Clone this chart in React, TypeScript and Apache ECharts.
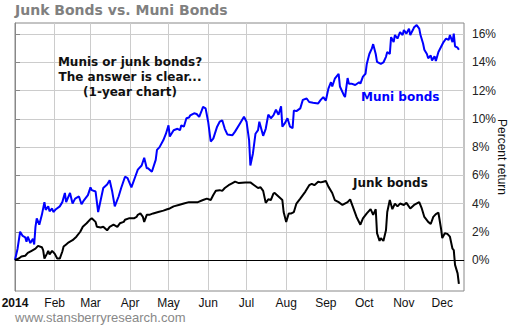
import { useEffect, useRef } from 'react';
import * as echarts from 'echarts';

// Days since 2014-01-01
const monthStarts = [0, 31, 59, 90, 120, 151, 181, 212, 243, 273, 304, 334];
const monthLabels = ['2014', 'Feb', 'Mar', 'Apr', 'May', 'Jun', 'Jul', 'Aug', 'Sep', 'Oct', 'Nov', 'Dec'];
const yTicks = [0, 2, 4, 6, 8, 10, 12, 14, 16];

const muniDays = [0, 2, 4, 6, 8, 9, 10, 12, 14, 15, 16, 17, 19, 21, 23, 24, 26, 27, 29, 30, 32, 35, 37, 39, 40, 43, 45, 47, 50, 52, 54, 57, 59, 60, 63, 65, 67, 69, 72, 74, 76, 78, 81, 83, 86, 88, 91, 94, 96, 99, 101, 103, 104, 107, 110, 111, 113, 116, 118, 120, 121, 124, 127, 129, 130, 132, 134, 136, 137, 140, 142, 144, 146, 147, 149, 151, 153, 155, 158, 160, 162, 164, 166, 170, 172, 176, 179, 181, 183, 184, 186, 188, 190, 191, 194, 196, 198, 200, 202, 204, 206, 208, 209, 211, 213, 215, 217, 218, 220, 223, 225, 228, 230, 233, 237, 239, 241, 243, 245, 247, 248, 250, 253, 254, 257, 258, 260, 261, 263, 266, 269, 270, 272, 274, 275, 277, 279, 280, 282, 283, 286, 288, 290, 291, 293, 294, 296, 297, 299, 301, 303, 304, 306, 308, 309, 311, 312, 314, 316, 317, 319, 320, 322, 323, 325, 326, 328, 329, 331, 333, 335, 337, 339, 340, 342, 343, 344, 346, 347];
const muniPct = [0, 0.8, 2.0, 1.7, 1.6, 1.3, 1.65, 1.2, 1.5, 1.1, 2.35, 2.95, 2.5, 3.2, 4.1, 3.55, 3.8, 3.45, 3.65, 3.4, 3.6, 3.8, 4.1, 4.75, 4.1, 4.75, 4.0, 4.35, 4.5, 3.95, 4.25, 4.6, 5.15, 4.95, 4.85, 3.4, 4.25, 5.1, 5.35, 5.65, 4.85, 3.8, 4.5, 5.1, 5.9, 5.8, 5.15, 5.9, 6.4, 6.7, 7.25, 6.5, 6.5, 6.25, 7.1, 7.8, 8.0, 8.5, 8.95, 9.55, 8.75, 9.2, 9.3, 9.2, 9.55, 9.45, 10.05, 10.1, 10.25, 10.4, 10.35, 10.15, 10.6, 10.85, 10.75, 9.8, 8.4, 8.6, 9.45, 9.8, 9.9, 9.3, 8.9, 8.85, 9.1, 9.7, 10.15, 9.8, 8.5, 6.7, 7.55, 8.95, 9.2, 9.8, 8.8, 9.3, 10.3, 10.05, 10.25, 10.65, 10.3, 10.9, 9.45, 9.7, 10.05, 9.45, 9.35, 10.6, 10.55, 10.75, 11.35, 11.45, 11.2, 11.15, 11.1, 11.35, 11.55, 11.3, 12.15, 12.6, 12.3, 12.85, 13.2, 12.3, 11.7, 11.55, 12.9, 12.5, 12.5, 12.4, 12.6, 12.5, 13.0, 13.2, 13.9, 14.6, 15.0, 15.3, 14.6, 14.05, 13.9, 14.0, 14.4, 14.75, 14.6, 15.8, 15.45, 15.95, 15.7, 16.15, 15.95, 16.3, 16.05, 16.4, 15.95, 16.3, 16.5, 16.65, 16.4, 15.95, 15.35, 14.9, 14.6, 14.3, 14.5, 14.15, 14.45, 14.1, 14.75, 15.1, 15.45, 15.7, 15.6, 15.95, 15.45, 16.05, 15.15, 15.05, 14.9];

const junkDays = [0, 3, 5, 8, 10, 13, 16, 18, 21, 22, 23, 25, 26, 27, 29, 31, 33, 35, 37, 38, 40, 42, 45, 48, 51, 53, 56, 59, 60, 63, 64, 67, 69, 72, 74, 77, 80, 82, 85, 86, 89, 93, 95, 96, 98, 100, 101, 103, 105, 108, 112, 116, 119, 121, 124, 128, 132, 136, 140, 143, 147, 150, 153, 155, 157, 160, 162, 164, 167, 170, 172, 175, 180, 184, 187, 190, 192, 194, 196, 198, 200, 202, 203, 206, 209, 210, 212, 214, 216, 218, 220, 223, 225, 227, 230, 232, 234, 237, 239, 241, 243, 245, 248, 250, 253, 256, 260, 262, 264, 267, 270, 272, 275, 278, 280, 282, 283, 285, 286, 288, 290, 291, 293, 295, 297, 299, 301, 304, 306, 309, 312, 316, 318, 320, 323, 325, 327, 329, 331, 333, 334, 336, 338, 340, 342, 343, 344, 346, 347];
const junkPct = [0, 0.1, 0.25, 0.3, 0.5, 0.65, 0.8, 1.0, 0.9, 0.7, 0.1, 0.45, 0.65, 0.4, 0.65, 0.45, 0.1, 0.1, 0.6, 0.95, 1.1, 1.25, 1.4, 1.65, 2.0, 2.35, 2.6, 2.9, 2.95, 2.7, 2.35, 2.3, 2.35, 2.1, 2.35, 2.5, 2.35, 2.6, 2.7, 2.85, 2.95, 2.95, 3.05, 3.2, 3.3, 3.05, 2.7, 3.2, 3.2, 3.3, 3.4, 3.5, 3.6, 3.65, 3.8, 3.9, 4.0, 4.1, 4.1, 4.1, 4.25, 4.35, 4.25, 4.6, 4.9, 4.95, 4.9, 5.1, 5.3, 5.45, 5.55, 5.45, 5.5, 5.5, 5.3, 5.1, 5.15, 4.9, 4.05, 4.3, 4.25, 4.7, 4.75, 4.5, 4.25, 3.4, 2.7, 3.3, 3.3, 3.4, 4.0, 4.35, 4.6, 4.85, 5.3, 5.4, 5.3, 5.55, 5.5, 5.55, 5.6, 5.2, 4.75, 4.25, 4.1, 3.9, 4.1, 4.3, 3.8, 3.05, 2.5, 2.95, 3.3, 3.6, 3.2, 3.6, 1.9, 1.35, 1.55, 1.35, 2.1, 3.4, 4.25, 3.6, 4.0, 3.8, 4.0, 3.9, 4.05, 3.65, 3.9, 4.1, 3.65, 3.05, 2.7, 2.55, 3.05, 3.25, 3.35, 2.25, 1.55, 1.9, 1.85, 1.65, 0.8, 0.7, -0.35, -0.95, -1.7];

export default function App() {
  const ref = useRef<HTMLDivElement>(null);
  useEffect(() => {
    document.body.style.margin = '0';
    const chart = echarts.init(ref.current!, null, { renderer: 'svg' });
    const sans = 'Liberation Sans, Arial, sans-serif';
    const verdana = 'DejaVu Sans, Verdana, sans-serif';
    chart.setOption({
      animation: false,
      backgroundColor: '#fff',
      grid: {
        left: 15, right: 46, top: 23, bottom: 34,
        show: true, borderColor: '#888', borderWidth: 1,
        outerBoundsMode: 'none', containLabel: false,
      },
      xAxis: {
        type: 'value',
        min: 0,
        max: 351,
        axisLine: { show: true, lineStyle: { color: '#888', width: 1 } },
        axisTick: { show: false, customValues: monthStarts },
        splitLine: { show: true, lineStyle: { color: '#cccccc', width: 1 } },
        axisLabel: {
          customValues: monthStarts,
          margin: 6,
          color: '#111',
          fontSize: 12,
          fontFamily: sans,
          formatter: (v: number) => {
            const i = monthStarts.indexOf(Math.round(v));
            if (i === 0) return '{b|' + monthLabels[0] + '}';
            return i >= 0 ? monthLabels[i] : '';
          },
          rich: { b: { fontWeight: 'bold', fontSize: 12, fontFamily: sans, color: '#111' } },
        },
      },
      yAxis: {
        type: 'value',
        position: 'right',
        min: -2.2,
        max: 16.8,
        axisLine: { show: true, lineStyle: { color: '#888', width: 1 } },
        axisTick: { show: true, length: 5, customValues: yTicks, lineStyle: { color: '#888' } },
        splitLine: { show: true, lineStyle: { color: '#cccccc', width: 1 } },
        axisLabel: {
          customValues: yTicks,
          formatter: '{value}%',
          color: '#222',
          fontSize: 12,
          fontFamily: sans,
          margin: 8,
        },
      },
      series: [
        {
          type: 'line',
          name: 'Muni bonds',
          data: muniDays.map((d, i) => [d, muniPct[i]]),
          showSymbol: false,
          lineStyle: { color: '#0000ff', width: 2 },
          itemStyle: { color: '#0000ff' },
          z: 3,
        },
        {
          type: 'line',
          name: 'Junk bonds',
          data: junkDays.map((d, i) => [d, junkPct[i]]),
          showSymbol: false,
          lineStyle: { color: '#000', width: 2 },
          itemStyle: { color: '#000' },
          z: 3,
          markLine: {
            silent: true,
            symbol: ['none', 'none'],
            label: { show: false },
            lineStyle: { color: '#000', width: 1, type: 'solid' },
            data: [{ yAxis: 0 }],
          },
        },
      ],
      graphic: [
        {
          type: 'text',
          left: 15,
          top: 3,
          z: 100,
          style: { text: 'Junk Bonds vs. Muni Bonds', font: 'bold 14px ' + verdana, fill: '#808080' },
        },
        {
          type: 'text',
          x: 502,
          y: 157,
          rotation: -Math.PI / 2,
          z: 100,
          style: {
            text: 'Percent return',
            font: '12px ' + sans,
            fill: '#111',
            textAlign: 'center',
            textVerticalAlign: 'middle',
          },
        },
        {
          type: 'text',
          x: 130,
          y: 54,
          z: 100,
          style: {
            text: 'Munis or junk bonds?\nThe answer is clear...\n(1-year chart)',
            font: 'bold 12px ' + verdana,
            fill: '#111',
            textAlign: 'center',
            lineHeight: 15,
          },
        },
        {
          type: 'text',
          x: 361,
          y: 97,
          z: 100,
          style: { text: 'Muni bonds', font: 'bold 12px ' + verdana, fill: '#0000ff', textVerticalAlign: 'middle' },
        },
        {
          type: 'text',
          x: 353,
          y: 183,
          z: 100,
          style: { text: 'Junk bonds', font: 'bold 12px ' + verdana, fill: '#111', textVerticalAlign: 'middle' },
        },
        {
          type: 'text',
          x: 15,
          y: 317,
          z: 100,
          style: { text: 'www.stansberryresearch.com', font: '13px ' + sans, fill: '#888', textVerticalAlign: 'middle' },
        },
      ],
    });
    return () => chart.dispose();
  }, []);
  return <div ref={ref} style={{ width: 510, height: 325 }} />;
}
